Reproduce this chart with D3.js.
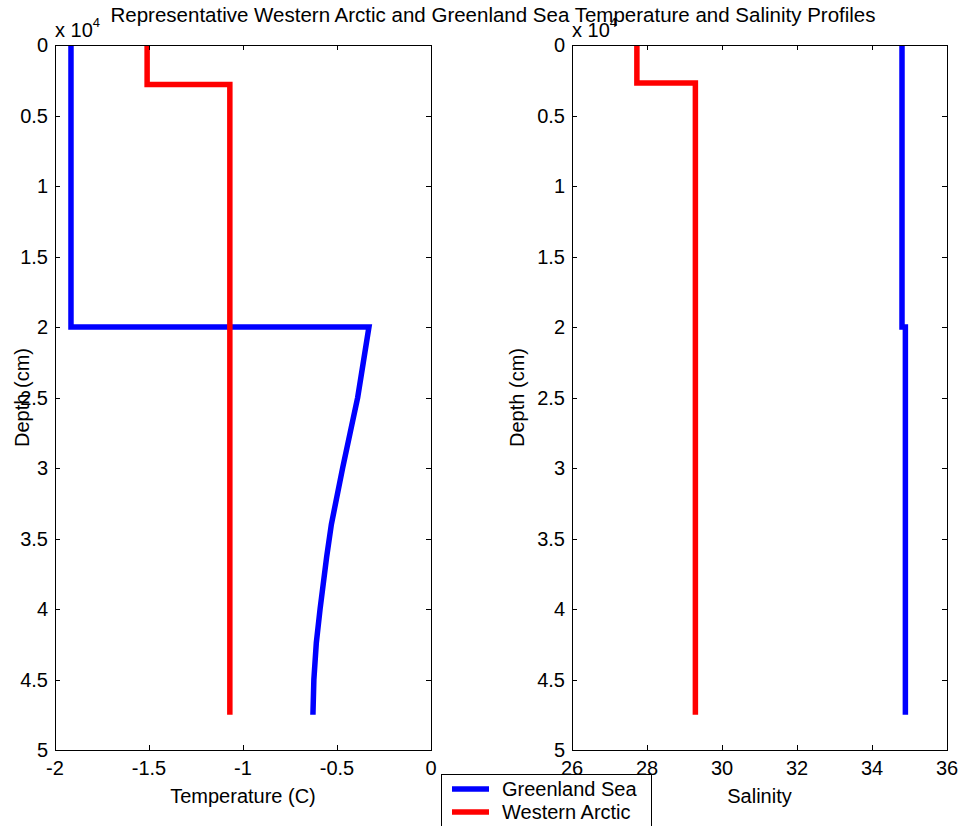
<!DOCTYPE html>
<html><head><meta charset="utf-8">
<script src="https://cdn.jsdelivr.net/npm/d3@7"></script>
<style>body{margin:0;background:#fff}svg{display:block}text{font-family:"Liberation Sans",Arial,sans-serif;fill:#000}</style>
</head><body><svg id="c" width="961" height="826"></svg>
<script>
// Depth in cm
const gsTempDepth = [0, 20000, 20000, 22500, 25000, 27500, 30000, 34000, 36300, 40000, 42400, 45000, 47500];
const gsTemp      = [-1.915, -1.915, -0.33, -0.36, -0.39, -0.43, -0.47, -0.53, -0.555, -0.59, -0.61, -0.623, -0.628];
const waTempDepth = [0, 2800, 2800, 47500];
const waTemp      = [-1.51, -1.51, -1.07, -1.07];
const gsSalDepth  = [0, 20000, 20000, 47500];
const gsSal       = [34.8, 34.8, 34.89, 34.89];
const waSalDepth  = [0, 2700, 2700, 47500];
const waSal       = [27.73, 27.73, 29.29, 29.29];
const depthTicks  = [0, 5000, 10000, 15000, 20000, 25000, 30000, 35000, 40000, 45000, 50000];
const tempTicks   = [-2, -1.5, -1, -0.5, 0];
const salTicks    = [26, 28, 30, 32, 34, 36];
const seriesNames = ["Greenland Sea", "Western Arctic"];
const seriesColors = ["#0000ff", "#ff0000"];

const svg = d3.select("#c");
const pTop = 45, pBottom = 750;
const FS = 20;
const y = d3.scaleLinear().domain([0, 50000]).range([pTop, pBottom]);

function panel(x0, x1, domain, ticks, xlabel, series, ylabX) {
  const x = d3.scaleLinear().domain(domain).range([x0, x1]);
  const g = svg.append("g");
  const line = d3.line().x(d => x(d[0])).y(d => y(d[1]));
  series.forEach(s => {
    g.append("path").attr("d", line(s.v.map((v, i) => [v, s.d[i]])))
      .attr("fill", "none").attr("stroke", s.c).attr("stroke-width", 5.5)
      .attr("stroke-linejoin", "miter").attr("stroke-linecap", "butt");
  });
  g.append("rect").attr("x", x0 + 0.5).attr("y", pTop + 0.5).attr("width", x1 - x0).attr("height", pBottom - pTop)
    .attr("fill", "none").attr("stroke", "#000").attr("stroke-width", 1);
  const tl = 5;
  ticks.forEach(t => {
    const px = Math.round(x(t)) + 0.5;
    g.append("line").attr("x1", px).attr("x2", px).attr("y1", pBottom).attr("y2", pBottom - tl).attr("stroke", "#000");
    g.append("line").attr("x1", px).attr("x2", px).attr("y1", pTop).attr("y2", pTop + tl).attr("stroke", "#000");
    g.append("text").attr("x", x(t)).attr("y", pBottom + 25).attr("text-anchor", "middle")
      .attr("font-size", FS).text(String(t));
  });
  depthTicks.forEach(t => {
    const py = Math.round(y(t)) + 0.5;
    g.append("line").attr("x1", x0).attr("x2", x0 + tl).attr("y1", py).attr("y2", py).attr("stroke", "#000");
    g.append("line").attr("x1", x1).attr("x2", x1 - tl).attr("y1", py).attr("y2", py).attr("stroke", "#000");
    g.append("text").attr("x", x0 - 7).attr("y", y(t) + 7).attr("text-anchor", "end")
      .attr("font-size", FS).text(t / 10000);
  });
  const ex = g.append("text").attr("x", x0).attr("y", pTop - 8).attr("font-size", FS);
  ex.append("tspan").text("x 10");
  ex.append("tspan").attr("font-size", 13).attr("dy", -10).text("4");
  g.append("text").attr("x", (x0 + x1) / 2).attr("y", 803).attr("text-anchor", "middle").attr("font-size", FS).text(xlabel);
  g.append("text").attr("transform", `translate(${ylabX},${(pTop + pBottom) / 2}) rotate(-90)`)
    .attr("text-anchor", "middle").attr("font-size", FS).text("Depth (cm)");
}

panel(55, 431, [-2, 0], tempTicks, "Temperature (C)", [
  {d: gsTempDepth, v: gsTemp, c: seriesColors[0]},
  {d: waTempDepth, v: waTemp, c: seriesColors[1]}
], 29);
panel(572, 947, [26, 36], salTicks, "Salinity", [
  {d: gsSalDepth, v: gsSal, c: seriesColors[0]},
  {d: waSalDepth, v: waSal, c: seriesColors[1]}
], 524);

svg.append("text").attr("x", 493).attr("y", 22).attr("text-anchor", "middle").attr("font-size", 20.5)
  .text("Representative Western Arctic and Greenland Sea Temperature and Salinity Profiles");

const lg = svg.append("g");
lg.append("rect").attr("x", 441.5).attr("y", 774.5).attr("width", 210).attr("height", 60)
  .attr("fill", "#fff").attr("stroke", "#000");
seriesNames.forEach((n, i) => {
  const yy = 789 + i * 23;
  lg.append("line").attr("x1", 452).attr("x2", 489).attr("y1", yy).attr("y2", yy)
    .attr("stroke", seriesColors[i]).attr("stroke-width", 5.5);
  lg.append("text").attr("x", 502).attr("y", yy + 7).attr("font-size", FS).text(n);
});
</script></body></html>
